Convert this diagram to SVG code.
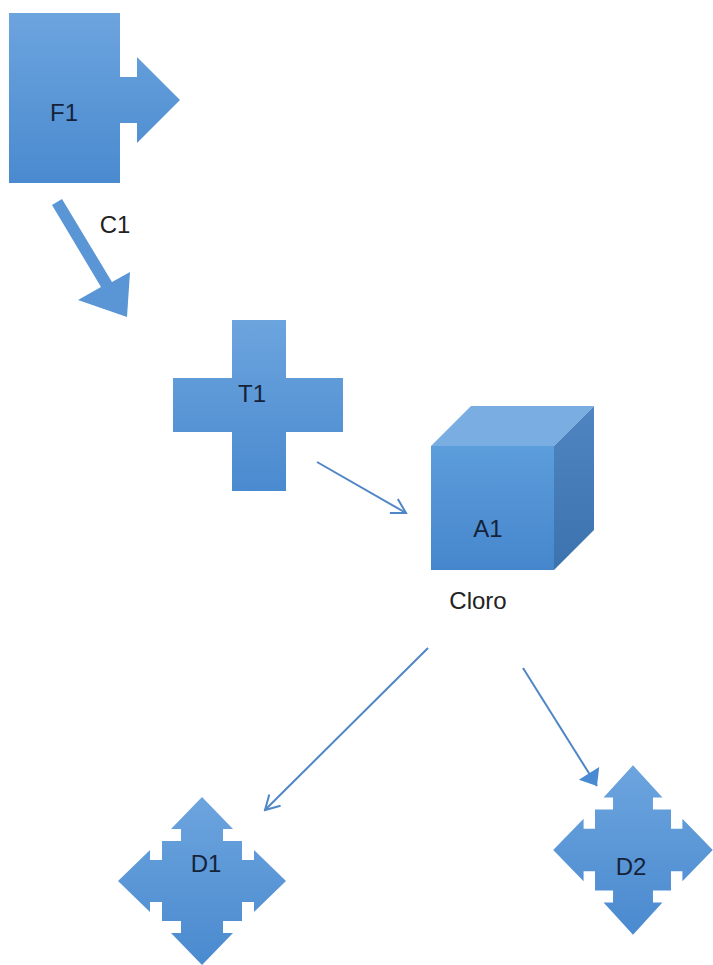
<svg xmlns="http://www.w3.org/2000/svg" width="713" height="965" viewBox="0 0 713 965">
  <defs>
    <linearGradient id="blueFill" x1="0" y1="0" x2="0" y2="1">
      <stop offset="0" stop-color="#6ca4de"/>
      <stop offset="1" stop-color="#4a8acf"/>
    </linearGradient>
    <linearGradient id="cubeFront" x1="0" y1="0" x2="0" y2="1">
      <stop offset="0" stop-color="#5c9ddc"/>
      <stop offset="1" stop-color="#4686cc"/>
    </linearGradient>
    <linearGradient id="cubeSide" x1="0" y1="0" x2="0" y2="1">
      <stop offset="0" stop-color="#4f86c2"/>
      <stop offset="1" stop-color="#3c72ad"/>
    </linearGradient>
    <!-- quad arrow callout outline, centred on the origin -->
    <path id="quadArrow" d="M0,-84 L31,-52 H21 V-40 H40 V-21 H52 V-31 L84,0 L52,31 V21 H40 V40 H21 V52 H31 L0,84 L-31,52 H-21 V40 H-40 V21 H-52 V31 L-84,0 L-52,-31 V-21 H-40 V-40 H-21 V-52 H-31 Z"/>
    <marker id="openHead" markerUnits="userSpaceOnUse" viewBox="-16 -10 18 20" refX="0" refY="0" markerWidth="18" markerHeight="20" orient="auto">
      <path d="M-14,-8 L0,0 L-14,8" fill="none" stroke="#4f86c6" stroke-width="2"/>
    </marker>
    <marker id="solidHead" markerUnits="userSpaceOnUse" viewBox="-16 -13 17 26" refX="0" refY="0" markerWidth="17" markerHeight="26" orient="auto">
      <path d="M-15,-12 L0,0 L-15,12 Z" fill="#4a8ad2"/>
    </marker>
  </defs>
  <style>
    .shape { fill: url(#blueFill); }
    .conn { fill: none; stroke: #4f86c6; stroke-width: 2; }
    .lbl { font-family: "Liberation Sans", Arial, sans-serif; font-size: 24px; fill: #15233a; text-anchor: middle; }
    .cap { font-family: "Liberation Sans", Arial, sans-serif; font-size: 24px; fill: #222; text-anchor: middle; }
  </style>
  <rect width="713" height="965" fill="#ffffff"/>

  <g id="F1">
    <path class="shape" d="M9,13 H120 V77 H137 V57 L180,100 L137,143 V123 H120 V183 H9 Z"/>
    <text class="lbl" x="64" y="121">F1</text>
  </g>

  <g id="C1">
    <polygon points="52,205 101,287 78,300 127,317 130,272 112,282 62,199" fill="#5a96d6"/>
    <text class="cap" x="115" y="233">C1</text>
  </g>

  <g id="T1">
    <path class="shape" d="M232,320 H286 V378 H343 V432 H286 V491 H232 V432 H173 V378 H232 Z"/>
    <text class="lbl" x="252" y="402">T1</text>
  </g>

  <g id="A1">
    <path d="M431,446 L471,406 H594 L554,446 Z" fill="#7aaee2"/>
    <path d="M554,446 L594,406 V530 L554,570 Z" fill="url(#cubeSide)"/>
    <rect x="431" y="446" width="123" height="124" fill="url(#cubeFront)"/>
    <text class="lbl" x="488" y="537">A1</text>
    <text class="cap" x="478" y="609">Cloro</text>
  </g>

  <g id="D1">
    <use href="#quadArrow" class="shape" transform="translate(202,881)"/>
    <text class="lbl" x="206" y="872">D1</text>
  </g>

  <g id="D2">
    <use href="#quadArrow" class="shape" transform="translate(633,850) scale(0.95,1.01)"/>
    <text class="lbl" x="631" y="875">D2</text>
  </g>

  <g id="connectors">
    <line class="conn" x1="317" y1="462" x2="406" y2="513" marker-end="url(#openHead)"/>
    <line class="conn" x1="428" y1="648" x2="265" y2="810" marker-end="url(#openHead)"/>
    <line class="conn" x1="523" y1="668" x2="597" y2="786" marker-end="url(#solidHead)"/>
  </g>
</svg>
